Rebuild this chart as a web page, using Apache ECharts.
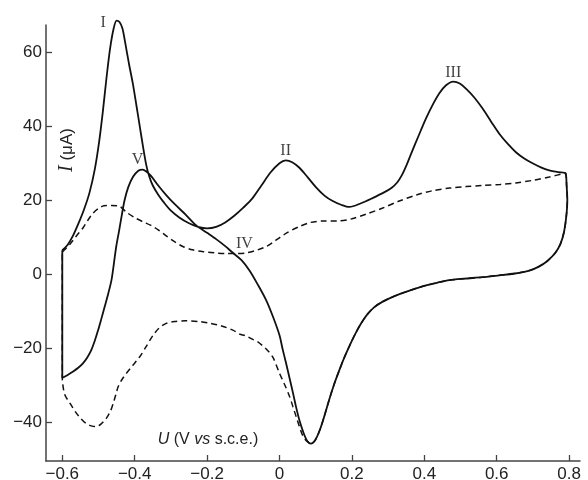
<!DOCTYPE html>
<html>
<head>
<meta charset="utf-8">
<script src="https://cdn.jsdelivr.net/npm/echarts@6.0.0/dist/echarts.min.js"></script>
<style>html,body{margin:0;padding:0;background:#fff}#c{width:588px;height:480px}</style>
</head>
<body>
<div id="c"></div>
<script>
// ---- data (U in V vs s.c.e., I in µA) ----
var xTicks = [-0.6, -0.4, -0.2, 0, 0.2, 0.4, 0.6, 0.8];
var yTicks = [-40, -20, 0, 20, 40, 60];

// solid curve, anodic (forward) sweep
var fwdU = [-0.600,-0.585,-0.570,-0.555,-0.540,-0.525,-0.510,-0.498,-0.488,-0.478,-0.468,-0.458,-0.450,-0.442,-0.434,-0.426,-0.416,-0.405,-0.395,-0.386,-0.377,-0.368,-0.360,-0.350,-0.335,-0.320,-0.300,-0.276,-0.250,-0.225,-0.200,-0.175,-0.150,-0.125,-0.100,-0.075,-0.050,-0.025,0.000,0.017,0.035,0.055,0.078,0.101,0.125,0.147,0.170,0.193,0.225,0.257,0.290,0.310,0.325,0.338,0.350,0.362,0.375,0.390,0.405,0.423,0.442,0.460,0.480,0.498,0.515,0.538,0.561,0.585,0.607,0.630,0.653,0.676,0.699,0.722,0.745,0.770,0.790];
var fwdI = [6.5,8.0,10.5,13.8,17.5,22.0,28.5,36.0,44.0,53.0,61.0,66.5,68.6,68.2,66.5,62.5,57.0,51.5,45.5,40.0,34.5,29.5,26.5,24.0,21.5,19.5,17.2,15.3,13.8,12.8,12.4,12.8,14.0,15.8,18.0,20.5,24.0,27.5,30.0,30.8,30.3,28.8,26.2,23.5,21.2,19.8,18.8,18.2,19.2,20.6,22.2,23.4,24.8,26.8,29.3,32.2,35.3,38.8,42.2,45.8,49.0,51.1,52.1,51.6,50.2,47.8,44.8,41.2,38.0,35.3,33.0,31.3,30.0,28.9,28.1,27.6,27.3];

// solid curve, cathodic (reverse) sweep, from 0.8 V down to the cathodic peak
var revU = [0.793,0.795,0.792,0.786,0.776,0.762,0.740,0.715,0.690,0.650,0.607,0.560,0.510,0.469,0.435,0.405,0.375,0.345,0.313,0.285,0.262,0.243,0.226,0.210,0.195,0.180,0.165,0.150,0.137,0.124,0.111,0.099,0.087];
var revI = [24.0,20.0,15.5,11.5,8.2,5.8,3.6,2.0,1.0,0.2,-0.3,-0.8,-1.2,-1.6,-2.3,-3.0,-3.9,-4.9,-6.1,-7.4,-8.9,-10.8,-13.2,-16.0,-19.0,-22.3,-26.0,-30.0,-34.0,-38.3,-42.2,-44.8,-45.8];

// solid curve, reverse sweep continued from the cathodic peak back to -0.6 V
var rev2U = [0.076,0.066,0.055,0.046,0.037,0.027,0.018,0.008,0.000,-0.018,-0.037,-0.060,-0.083,-0.105,-0.129,-0.150,-0.175,-0.200,-0.230,-0.260,-0.290,-0.313,-0.335,-0.355,-0.368,-0.378,-0.390,-0.405,-0.418,-0.428,-0.436,-0.443,-0.451,-0.458,-0.464,-0.473,-0.483,-0.492,-0.501,-0.510,-0.520,-0.531,-0.543,-0.556,-0.570,-0.583,-0.594,-0.600,-0.600];
var rev2I = [-45.0,-42.8,-39.5,-36.0,-32.0,-27.8,-24.0,-20.0,-16.5,-11.5,-7.0,-2.8,1.0,3.8,5.8,7.6,9.5,11.2,13.2,16.2,19.0,21.4,24.0,26.6,27.8,28.3,28.0,26.3,23.5,20.0,15.8,11.8,7.5,2.5,-1.5,-5.2,-8.8,-12.0,-15.1,-17.9,-20.5,-22.5,-24.1,-25.3,-26.3,-27.1,-27.7,-28.0,6.5];

// dashed curve, forward sweep
var dFwdU = [-0.600,-0.580,-0.560,-0.543,-0.528,-0.515,-0.500,-0.485,-0.465,-0.441,-0.423,-0.400,-0.377,-0.355,-0.335,-0.313,-0.290,-0.267,-0.240,-0.210,-0.180,-0.150,-0.120,-0.090,-0.060,-0.035,-0.010,0.020,0.055,0.085,0.120,0.160,0.200,0.240,0.285,0.331,0.380,0.423,0.470,0.515,0.560,0.610,0.653,0.700,0.745,0.790];
var dFwdI = [6.0,8.0,10.5,12.5,14.8,16.5,17.8,18.5,18.6,18.3,16.8,15.3,14.2,13.2,12.0,10.4,8.8,7.5,6.6,6.1,5.8,5.6,5.6,5.8,6.6,7.6,9.2,11.2,12.9,14.0,14.4,14.4,15.0,16.3,17.9,19.8,21.5,22.6,23.3,23.7,24.0,24.3,24.7,25.4,26.3,27.3];

// dashed curve, return branch after the cathodic peak back to -0.6 V
var dRetU = [0.074,0.064,0.055,0.046,0.037,0.028,0.014,0.000,-0.018,-0.033,-0.046,-0.060,-0.074,-0.095,-0.110,-0.129,-0.160,-0.190,-0.221,-0.260,-0.290,-0.313,-0.333,-0.350,-0.368,-0.386,-0.405,-0.423,-0.436,-0.446,-0.452,-0.458,-0.466,-0.478,-0.492,-0.506,-0.520,-0.535,-0.550,-0.563,-0.578,-0.593,-0.599,-0.600,-0.600];
var dRetI = [-45.0,-43.6,-41.2,-38.5,-35.8,-33.1,-29.8,-26.8,-22.5,-20.6,-19.4,-18.3,-17.6,-16.6,-16.2,-15.1,-14.0,-13.3,-12.8,-12.6,-12.8,-13.3,-14.6,-16.6,-19.5,-22.3,-24.6,-26.8,-28.6,-30.5,-32.5,-34.5,-36.8,-38.9,-40.4,-41.2,-41.0,-40.3,-38.9,-37.3,-35.0,-32.6,-29.5,-28.0,6.0];

// peak labels
var peakNames = ['I', 'II', 'III', 'IV', 'V'];
var peakU = [-0.487, 0.017, 0.480, -0.097, -0.392];
var peakI = [68.0, 33.4, 54.6, 8.2, 31.0];

// ---- build ----
function pairs(us, is) { return us.map(function (u, k) { return [u, is[k]]; }); }
var solidData = pairs(fwdU, fwdI).concat(pairs(revU, revI), pairs(rev2U, rev2I));
var dashedData = pairs(dFwdU, dFwdI).concat(pairs(revU, revI), pairs(dRetU, dRetI));
var labelData = peakNames.map(function (n, k) { return { name: n, value: [peakU[k], peakI[k]] }; });

function fmt(v) {
  var s = (Math.round(v * 10) / 10).toString();
  return s.replace('-', '\u2212');
}
var labelFont = { fontFamily: 'Liberation Sans', fontSize: 17, color: '#222' };

var chart = echarts.init(document.getElementById('c'), null, { renderer: 'canvas' });
chart.setOption({
  animation: false,
  backgroundColor: '#fff',
  grid: { left: 46, right: 8, top: 25, bottom: 19, containLabel: false, outerBoundsMode: 'none' },
  xAxis: {
    type: 'value', min: -0.645, max: 0.83,
    axisLine: { show: true, onZero: false, lineStyle: { color: '#444', width: 1.5 } },
    axisTick: { show: true, inside: true, length: 6, customValues: xTicks, lineStyle: { color: '#444', width: 1.3 } },
    axisLabel: Object.assign({ show: true, margin: 5, customValues: xTicks, formatter: fmt }, labelFont),
    splitLine: { show: false }
  },
  yAxis: {
    type: 'value', min: -50.5, max: 67.4,
    axisLine: { show: true, onZero: false, lineStyle: { color: '#444', width: 1.5 } },
    axisTick: { show: true, inside: true, length: 6, customValues: yTicks, lineStyle: { color: '#444', width: 1.3 } },
    axisLabel: Object.assign({ show: true, margin: 4, customValues: yTicks, formatter: fmt }, labelFont),
    splitLine: { show: false }
  },
  graphic: [
    {
      type: 'text', x: 67, y: 150, rotation: Math.PI / 2,
      style: {
        text: '{i|I} (μA)', align: 'center', verticalAlign: 'middle',
        fontFamily: 'Liberation Sans', fontSize: 17, fill: '#222',
        rich: { i: { fontFamily: 'Liberation Serif', fontStyle: 'italic', fontSize: 20, fill: '#222' } }
      }
    },
    {
      type: 'text', x: 208, y: 440,
      style: {
        text: '{i|U} (V {i|vs} s.c.e.)', align: 'center', verticalAlign: 'middle',
        fontFamily: 'Liberation Sans', fontSize: 16, fill: '#222',
        rich: { i: { fontFamily: 'Liberation Sans', fontStyle: 'italic', fontSize: 16, fill: '#222' } }
      }
    }
  ],
  series: [
    {
      type: 'line', data: solidData, smooth: 0.3, symbol: 'none', clip: false,
      lineStyle: { color: '#111', width: 1.8 }
    },
    {
      type: 'line', data: dashedData, smooth: 0.3, symbol: 'none', clip: false,
      lineStyle: { color: '#111', width: 1.5, type: [6, 4] }
    },
    {
      type: 'scatter', data: labelData, symbolSize: 1, clip: false,
      itemStyle: { color: 'rgba(0,0,0,0)' },
      label: {
        show: true, position: 'inside', formatter: '{b}',
        fontFamily: 'Liberation Serif', fontSize: 16, color: '#111'
      }
    }
  ]
});
</script>
</body>
</html>
